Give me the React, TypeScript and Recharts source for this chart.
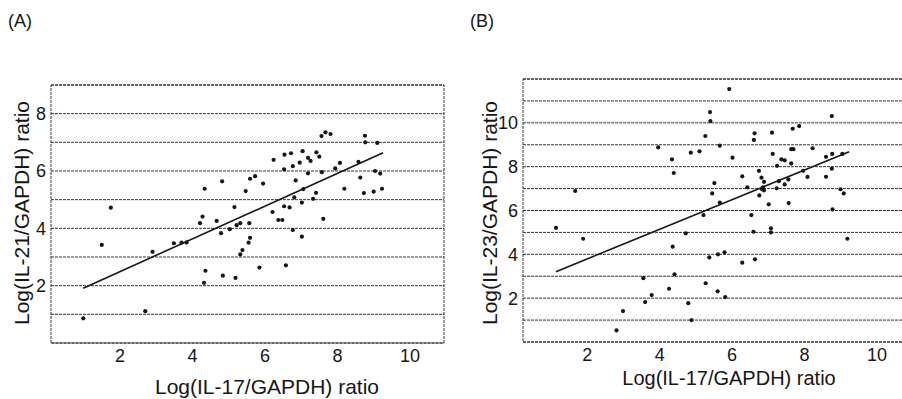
import { ComposedChart, Scatter, Line, XAxis, YAxis, CartesianGrid, ReferenceArea } from 'recharts';

const FONT = '"Liberation Sans", Arial, Helvetica, sans-serif';
const INK = '#161616';

// x-axis ticks shared by both panels
const xTicks = [2, 4, 6, 8, 10];

// (A) IL-17 vs IL-21
const aX = [0.99, 1.5, 1.75, 2.7, 2.9, 3.49, 3.7, 3.84, 4.21, 4.28, 4.67, 4.79, 5.03, 5.16, 4.36, 4.32, 4.84, 5.19, 5.22, 5.32, 5.57, 5.59, 5.55, 5.38, 5.32, 5.85, 6.58, 6.21, 6.37, 6.48, 6.53, 6.68, 6.77, 7.02, 7.02, 7.61, 4.34, 4.82, 5.47, 5.59, 5.73, 5.95, 6.24, 6.53, 6.54, 6.72, 6.77, 6.85, 6.81, 6.96, 7.04, 7.06, 7.19, 7.19, 7.26, 7.33, 7.41, 7.42, 7.5, 7.56, 7.67, 7.81, 7.57, 7.94, 8.07, 8.19, 8.58, 8.63, 8.76, 8.77, 8.73, 9.0, 9.04, 9.1, 9.18, 9.23];
const aY = [0.86, 3.42, 4.72, 1.11, 3.18, 3.48, 3.5, 3.51, 4.18, 4.41, 4.26, 3.83, 3.97, 4.74, 2.52, 2.1, 2.35, 2.27, 4.11, 4.18, 4.18, 3.67, 3.5, 3.24, 3.09, 2.63, 2.71, 4.57, 4.29, 4.29, 4.77, 4.73, 3.94, 4.9, 3.71, 4.33, 5.38, 5.64, 5.3, 5.73, 5.82, 5.56, 6.39, 6.06, 6.57, 6.62, 6.17, 5.67, 5.08, 6.29, 6.69, 5.37, 6.46, 5.92, 6.35, 5.03, 5.24, 6.65, 6.5, 7.22, 7.35, 7.29, 5.96, 6.09, 6.28, 5.38, 6.32, 5.77, 7.23, 7.0, 5.23, 5.28, 6.0, 6.98, 5.91, 5.38];
const aFitX = [0.99, 9.26];
const aFitY = [1.91, 6.64];
const aYTicks = [0, 1, 2, 3, 4, 5, 6, 7, 8, 9];

// (B) IL-17 vs IL-23
const bX = [1.14, 1.67, 1.89, 2.81, 2.99, 3.55, 3.6, 3.78, 3.96, 4.26, 4.34, 4.36, 4.39, 4.41, 4.72, 4.79, 4.86, 4.88, 5.1, 5.21, 5.26, 5.27, 5.37, 5.39, 5.4, 5.45, 5.51, 5.6, 5.61, 5.66, 5.66, 5.79, 5.81, 5.92, 6.01, 6.28, 6.28, 6.42, 6.53, 6.59, 6.6, 6.62, 6.63, 6.74, 6.75, 6.81, 6.83, 6.85, 6.88, 6.88, 7.01, 7.07, 7.07, 7.1, 7.12, 7.23, 7.24, 7.29, 7.36, 7.45, 7.45, 7.55, 7.56, 7.63, 7.63, 7.67, 7.69, 7.85, 7.96, 8.08, 8.22, 8.59, 8.59, 8.75, 8.75, 8.76, 8.77, 8.99, 9.04, 9.08, 9.18];
const bY = [5.21, 6.89, 4.71, 0.53, 1.41, 2.91, 1.82, 2.14, 8.88, 2.43, 8.33, 4.35, 7.71, 3.09, 4.96, 1.77, 8.64, 1.0, 8.7, 5.79, 9.4, 2.68, 3.86, 10.49, 10.08, 6.78, 7.25, 2.31, 4.0, 8.96, 6.36, 4.09, 2.05, 11.54, 8.41, 7.56, 3.62, 7.06, 5.79, 5.03, 9.22, 9.52, 3.77, 7.81, 6.69, 7.5, 6.97, 7.06, 7.31, 6.92, 6.28, 5.19, 5.0, 9.55, 8.58, 7.01, 8.04, 7.34, 8.33, 8.29, 7.19, 7.42, 6.34, 8.8, 8.15, 9.73, 8.8, 9.85, 7.81, 7.53, 8.84, 8.45, 7.54, 10.31, 7.91, 8.58, 6.05, 6.97, 8.58, 6.78, 4.71];
const bFitX = [1.14, 9.23];
const bFitY = [3.21, 8.68];
const bYTicks = [0, 1, 2, 3, 4, 5, 6, 7, 8, 9, 10, 11, 12];

const zip = (xs: number[], ys: number[]) => xs.map((x, i) => ({ x, y: ys[i] }));

const Dot = (p: any) => <circle cx={p.cx} cy={p.cy} r={2.1} fill={INK} />;

type PanelProps = {
  tag: string;
  yTitle: string;
  pts: { x: number; y: number }[];
  fit: { x: number; y: number }[];
  xDomain: [number, number];
  yTicks: number[];
  margin: { top: number; right: number; bottom: number; left: number };
  yTitleX: number;
  xTitleX: number;
  xTitleY: number;
  xTitleSize: number;
  tagX: number;
};

function Panel(props: PanelProps) {
  const { xDomain, yTicks } = props;
  const yMax = yTicks[yTicks.length - 1];
  return (
    <ComposedChart width={460} height={399} margin={props.margin}>
      <CartesianGrid vertical={false} stroke="#333" strokeDasharray="3 1" />
      <XAxis
        dataKey="x"
        type="number"
        domain={xDomain}
        ticks={xTicks}
        axisLine={false}
        tickLine={false}
        tickSize={0}
        tickMargin={6}
        height={30}
        tick={{ fill: INK, fontSize: 18, fontFamily: FONT }}
        allowDataOverflow
      />
      <YAxis
        dataKey="y"
        type="number"
        domain={[0, yMax]}
        ticks={yTicks}
        interval={0}
        tickFormatter={(v: number) => (v > 0 && v < yMax && v % 2 === 0 ? String(v) : '')}
        axisLine={false}
        tickLine={false}
        tickSize={0}
        tickMargin={5}
        width={30}
        tick={{ fill: INK, fontSize: 18, fontFamily: FONT }}
      />
      <ReferenceArea x1={xDomain[0]} x2={xDomain[1]} y1={0} y2={yMax} fill="none" stroke="#333" strokeDasharray="3 1" ifOverflow="visible" />
      <Scatter data={props.pts} shape={Dot} isAnimationActive={false} />
      <Line data={props.fit} dataKey="y" stroke={INK} strokeWidth={1.6} dot={false} isAnimationActive={false} />
      <text x={props.tagX} y={27} fontSize={18} fontFamily={FONT} fill={INK}>{props.tag}</text>
      <text
        x={props.yTitleX}
        y={213}
        fontSize={21}
        fontFamily={FONT}
        fill={INK}
        textAnchor="middle"
        dominantBaseline="central"
        transform={`rotate(-90 ${props.yTitleX} 213)`}
      >
        {props.yTitle}
      </text>
      <text x={props.xTitleX} y={props.xTitleY} fontSize={props.xTitleSize} fontFamily={FONT} fill={INK} textAnchor="middle">
        Log(IL-17/GAPDH) ratio
      </text>
    </ComposedChart>
  );
}

export default function App() {
  return (
    <div style={{ position: 'absolute', left: 0, top: 0, width: 902, height: 399, overflow: 'hidden', background: '#fff' }}>
      <div style={{ position: 'absolute', left: 0, top: 0 }}>
        <Panel
          tag="(A)"
          yTitle="Log(IL-21/GAPDH) ratio"
          pts={zip(aX, aY)}
          fit={zip(aFitX, aFitY)}
          xDomain={[0.1, 10.94]}
          yTicks={aYTicks}
          margin={{ top: 85, right: 16, bottom: 26, left: 21 }}
          yTitleX={21}
          xTitleX={267}
          xTitleY={394}
          xTitleSize={21}
          tagX={8}
        />
      </div>
      <div style={{ position: 'absolute', left: 460, top: 0 }}>
        <Panel
          tag="(B)"
          yTitle="Log(IL-23/GAPDH) ratio"
          pts={zip(bX, bY)}
          fit={zip(bFitX, bFitY)}
          xDomain={[0.23, 10.88]}
          yTicks={bYTicks}
          margin={{ top: 79, right: 11, bottom: 27, left: 33 }}
          yTitleX={29}
          xTitleX={269}
          xTitleY={385}
          xTitleSize={20}
          tagX={10}
        />
      </div>
    </div>
  );
}
